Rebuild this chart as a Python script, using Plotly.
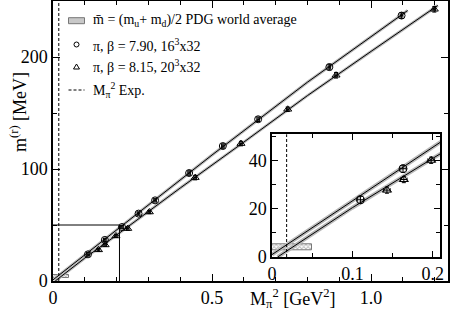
import plotly.graph_objects as go

# ---------------- data ----------------
# beta = 7.90, 16^3x32 (circles)
x_b790 = [0.110, 0.163, 0.217, 0.269, 0.321, 0.428, 0.534, 0.645, 0.869, 1.096]
y_b790 = [23.8, 36.7, 48.2, 60.2, 72.0, 96.4, 120.5, 144.4, 191.0, 237.0]
ey_b790 = [1.5, 1.5, 1.5, 1.5, 1.5, 2.0, 2.0, 2.0, 2.5, 2.5]
# beta = 8.15, 20^3x32 (triangles)
x_b815 = [0.143, 0.164, 0.198, 0.235, 0.303, 0.447, 0.591, 0.738, 0.890, 1.199]
y_b815 = [27.8, 32.2, 40.2, 46.8, 61.6, 92.3, 122.7, 153.3, 183.7, 242.6]
ey_b815 = [1.3, 1.3, 1.3, 1.5, 1.5, 2.0, 2.0, 2.0, 2.5, 2.5]
ex_err = 0.004

# fit curves
fit_x_790 = [0.0, 0.2, 0.5, 0.8, 1.0, 1.115]
fit_y_790 = [1.0, 45.5, 112.5, 177.5, 218.5, 241.5]
fit_x_815 = [0.007, 0.1, 0.2, 0.4, 0.6, 0.8, 1.0, 1.21]
fit_y_815 = [0.0, 20.5, 41.0, 83.0, 124.0, 165.5, 205.0, 246.0]

# PDG world average band and experimental M_pi^2
pdg_x = [0.0, 0.05]
pdg_y = [2.8, 5.3]
mpi2_exp = 0.0182

# inset window
inset_x = [0.0, 0.209]
inset_y = [0.0, 51.0]

main_xticks = [0, 0.5, 1.0]
main_xticklabels = ["0", "0.5", "1.0"]
main_yticks = [0, 100, 200]
inset_xticks = [0, 0.1, 0.2]
inset_xticklabels = ["0", "0.1", "0.2"]
inset_yticks = [0, 20, 40]

FONT = "Liberation Serif"
W, H = 452, 315
L, R, T, B = 53, 4, 1, 34

fig = go.Figure()

def add_set(inset):
    ax = dict(xaxis="x2", yaxis="y2") if inset else dict(xaxis="x", yaxis="y")
    band_w = 4 if inset else 3
    for fx, fy in [(fit_x_790, fit_y_790), (fit_x_815, fit_y_815)]:
        fig.add_trace(go.Scatter(x=fx, y=fy, mode="lines", line=dict(color="#b8b8b8", width=band_w),
                                 showlegend=False, hoverinfo="skip", **ax))
        fig.add_trace(go.Scatter(x=fx, y=fy, mode="lines", line=dict(color="black", width=1),
                                 showlegend=False, hoverinfo="skip", **ax))
    fig.add_trace(go.Bar(x=[(pdg_x[0] + pdg_x[1]) / 2], y=[pdg_y[1] - pdg_y[0]], base=[pdg_y[0]],
                         width=[pdg_x[1] - pdg_x[0]],
                         marker=dict(color="white", line=dict(color="#777", width=1),
                                     pattern=dict(shape="x", fgcolor="#777", size=3, solidity=0.5)),
                         showlegend=False, hoverinfo="skip", **ax))
    ms = 8 if inset else 7
    fig.add_trace(go.Scatter(x=x_b790, y=y_b790, mode="markers",
                             marker=dict(symbol="circle-open", size=ms, color="black", line=dict(width=1)),
                             error_y=dict(type="data", array=ey_b790, color="black", thickness=1, width=2),
                             error_x=dict(type="constant", value=ex_err, color="black", thickness=1, width=2),
                             showlegend=False, **ax))
    fig.add_trace(go.Scatter(x=x_b815, y=y_b815, mode="markers",
                             marker=dict(symbol="triangle-up-open", size=ms, color="black", line=dict(width=1)),
                             error_y=dict(type="data", array=ey_b815, color="black", thickness=1, width=2),
                             error_x=dict(type="constant", value=ex_err, color="black", thickness=1, width=2),
                             showlegend=False, **ax))

add_set(False)
add_set(True)

axis_common = dict(showline=True, linecolor="black", linewidth=1.5, mirror="ticks", ticks="inside",
                   tickcolor="black", showgrid=False, zeroline=False,
                   tickfont=dict(family=FONT, size=18, color="black"))

ix0 = (272 - L) / (W - L - R)
ix1 = (440 - L) / (W - L - R)
iy0 = (H - B - 257) / (H - T - B)
iy1 = (H - B - 134.3) / (H - T - B)

fig.update_layout(
    width=W, height=H, margin=dict(l=L, r=R, t=T, b=B, autoexpand=False),
    paper_bgcolor="white", plot_bgcolor="white", bargap=0, barmode="overlay",
    showlegend=False,
    xaxis=dict(range=[0, 1.242], tickvals=main_xticks, ticktext=main_xticklabels, ticklen=7,
               minor=dict(dtick=0.1, ticklen=4, ticks="inside", tickcolor="black"),
               domain=[0, 1], automargin=False, **axis_common),
    yaxis=dict(range=[0, 250], tickvals=main_yticks, ticklen=7,
               minor=dict(dtick=50, ticklen=4, ticks="inside", tickcolor="black"),
               domain=[0, 1], automargin=False, **axis_common),
    xaxis2=dict(range=inset_x, tickvals=inset_xticks, ticktext=inset_xticklabels, ticklen=6,
                minor=dict(dtick=0.05, ticklen=4, ticks="inside", tickcolor="black"),
                domain=[ix0, ix1], anchor="y2", automargin=False, showticklabels=True, **axis_common),
    yaxis2=dict(range=inset_y, tickvals=inset_yticks, ticklen=6,
                minor=dict(dtick=10, ticklen=4, ticks="inside", tickcolor="black"),
                domain=[iy0, iy1], anchor="x2", automargin=False, **axis_common),
)

shapes = []
shapes.append(dict(type="line", xref="x", yref="y domain", x0=mpi2_exp, x1=mpi2_exp, y0=0, y1=1,
                   line=dict(color="black", width=1, dash="3px,2px")))
shapes.append(dict(type="line", xref="x2", yref="y2 domain", x0=mpi2_exp, x1=mpi2_exp, y0=0, y1=1,
                   line=dict(color="black", width=1, dash="3px,2px")))
shapes.append(dict(type="line", xref="x", yref="y", x0=0, x1=inset_x[1], y0=50, y1=50,
                   line=dict(color="black", width=1)))
shapes.append(dict(type="line", xref="x", yref="y", x0=inset_x[1], x1=inset_x[1], y0=0, y1=50,
                   line=dict(color="black", width=1)))

def px(xp):
    return (xp - L) / (W - L - R)

def py(yp):
    return (H - B - yp) / (H - T - B)

rows = [20.7, 44.5, 66.5, 90.0]
sx = 76.5
shapes.append(dict(type="rect", xref="paper", yref="paper", x0=px(sx - 8), x1=px(sx + 8),
                   y0=py(rows[0] + 3), y1=py(rows[0] - 3), fillcolor="#c8c8c8", line=dict(color="#777", width=1)))
shapes.append(dict(type="circle", xref="paper", yref="paper", x0=px(sx - 2.5), x1=px(sx + 2.5),
                   y0=py(rows[1] + 2.5), y1=py(rows[1] - 2.5), line=dict(color="black", width=1)))
shapes.append(dict(type="path", xref="paper", yref="paper",
                   path=f"M {px(sx-3)} {py(rows[2]+2.5)} L {px(sx+3)} {py(rows[2]+2.5)} L {px(sx)} {py(rows[2]-2.5)} Z",
                   line=dict(color="black", width=1)))
shapes.append(dict(type="line", xref="paper", yref="paper", x0=px(sx - 8), x1=px(sx + 8),
                   y0=py(rows[3]), y1=py(rows[3]), line=dict(color="black", width=1, dash="3px,2px")))

fig.update_layout(shapes=shapes)

legend_texts = [
    "m\u0304 = (m<sub>u</sub>+ m<sub>d</sub>)/2 PDG world average",
    "\u03c0, \u03b2 = 7.90, 16<sup>3</sup>x32",
    "\u03c0, \u03b2 = 8.15, 20<sup>3</sup>x32",
    "M<sub>\u03c0</sub><sup>2</sup> Exp.",
]
ann = []
for t, r in zip(legend_texts, rows):
    ann.append(dict(text=t, xref="paper", yref="paper", x=px(91), y=py(r), xanchor="left", yanchor="middle",
                    showarrow=False, font=dict(family=FONT, size=14, color="black")))
ann.append(dict(text="M<sub>\u03c0</sub><sup>2</sup> [GeV<sup>2</sup>]", xref="paper", yref="paper",
                x=px(292), y=py(298), xanchor="center", yanchor="middle", showarrow=False,
                font=dict(family=FONT, size=18, color="black")))
ann.append(dict(text="m<sup>(r)</sup> [MeV]", xref="paper", yref="paper",
                x=px(18), y=py(112), xanchor="center", yanchor="middle", textangle=-90, showarrow=False,
                font=dict(family=FONT, size=18, color="black")))
fig.update_layout(annotations=ann)

fig.write_html("out.html", config={"displayModeBar": False},
               post_script="document.body.style.margin='0';")
